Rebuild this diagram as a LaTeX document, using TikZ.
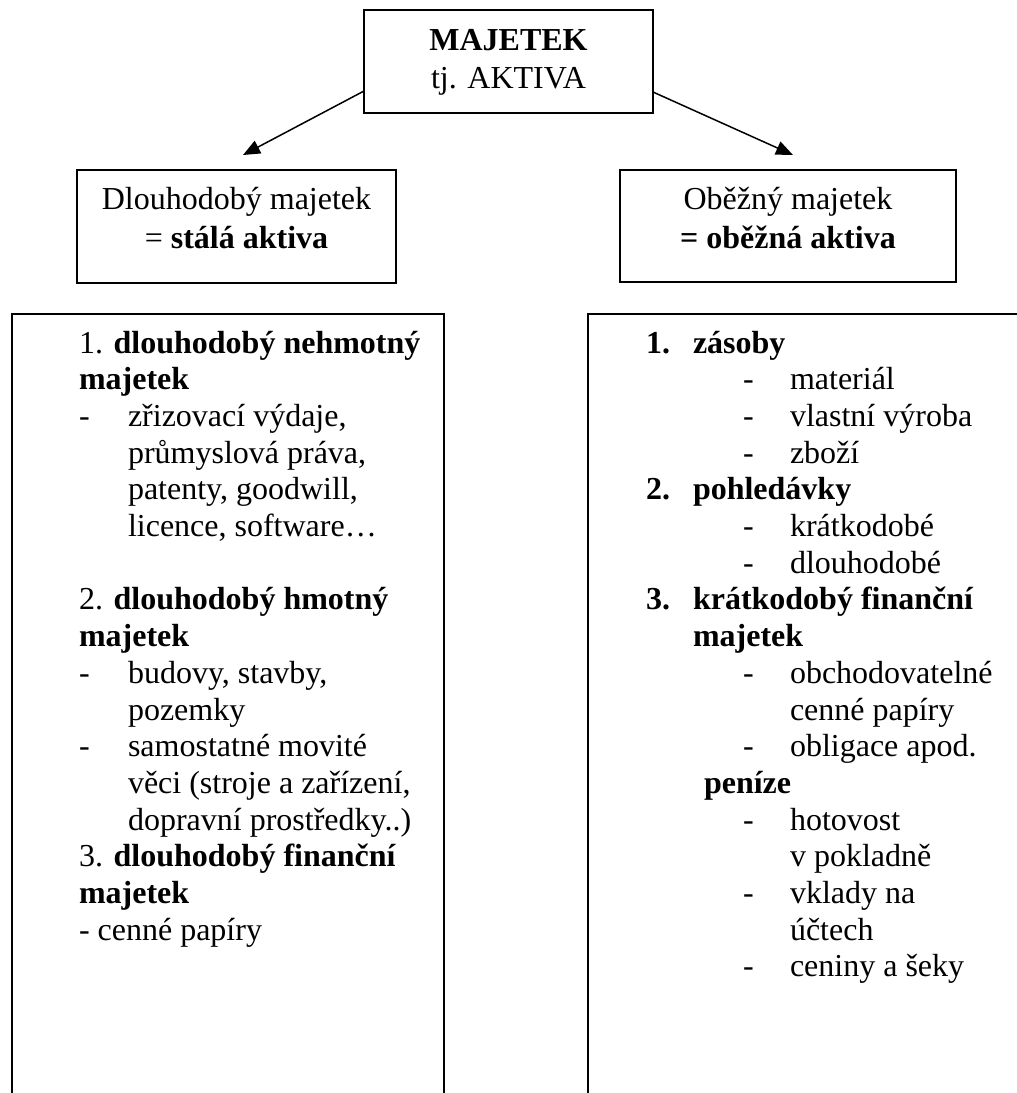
\documentclass[tikz,border=0pt]{standalone}
\usepackage{fontspec}
\setmainfont{Liberation Serif}
\usetikzlibrary{arrows.meta}
\begin{document}
\begin{tikzpicture}[x=1pt,y=-1pt,
  txt/.style={inner sep=0pt, outer sep=0pt, anchor=base west, font=\fontsize{32}{36.7}\selectfont},
  ctxt/.style={txt, anchor=base},
  box/.style={draw, line width=2pt, inner sep=0pt},
  arr/.style={line width=1.5pt, -{Triangle[length=17pt,width=14pt]}}]
\useasboundingbox (0,0) rectangle (1017,1093);

% top box
\node[box, minimum width=289pt, minimum height=103pt] (top) at (508.5,61.5) {};
\node[ctxt] (t1) at (508.5,50) {\bfseries MAJETEK};
\node[ctxt] (t2) at (508.5,88) {tj. AKTIVA};

% middle boxes
\node[box, minimum width=319pt, minimum height=113pt] (dm) at (236.5,226.5) {};
\node[ctxt] (dm1) at (236.5,209) {Dlouhodobý majetek};
\node[ctxt] (dm2) at (236.5,248) {= \textbf{stálá aktiva}};

\node[box, minimum width=336pt, minimum height=112pt] (om) at (788,226) {};
\node[ctxt] (om1) at (788,209) {Oběžný majetek};
\node[ctxt] (om2) at (788,248) {\textbf{= oběžná aktiva}};

% arrows
\coordinate (ls) at (364,91);
\coordinate (lt) at (243,155);
\coordinate (rs) at (653,92);
\coordinate (rt) at (793,155);
\draw[arr] (ls) -- (lt);
\draw[arr] (rs) -- (rt);

% big boxes (open at the bottom)
\coordinate (lb1) at (12,1100);
\coordinate (lb2) at (444,314);
\coordinate (lb3) at (444,1100);
\draw[box] (lb1) |- (lb2) -- (lb3);
\coordinate (rb1) at (588,1100);
\coordinate (rb2) at (1030,314);
\draw[box] (rb1) |- (rb2);

% left column
\node[txt] (l1) at (79,353) {1. \textbf{dlouhodobý nehmotný}};
\node[txt] (l2) at (79,389.7) {\textbf{majetek}};
\node[txt] (ld3) at (79,426.4) {-};
\node[txt] (l3) at (128,426.4) {zřizovací výdaje,};
\node[txt] (l4) at (128,463.1) {průmyslová práva,};
\node[txt] (l5) at (128,499.8) {patenty, goodwill,};
\node[txt] (l6) at (128,536.5) {licence, software…};
\node[txt] (l7) at (79,609.9) {2. \textbf{dlouhodobý hmotný}};
\node[txt] (l8) at (79,646.6) {\textbf{majetek}};
\node[txt] (ld9) at (79,683.3) {-};
\node[txt] (l9) at (128,683.3) {budovy, stavby,};
\node[txt] (l10) at (128,720) {pozemky};
\node[txt] (ld11) at (79,756.7) {-};
\node[txt] (l11) at (128,756.7) {samostatné movité};
\node[txt] (l12) at (128,793.4) {věci (stroje a zařízení,};
\node[txt] (l13) at (128,830.1) {dopravní prostředky..)};
\node[txt] (l14) at (79,866.8) {3. \textbf{dlouhodobý finanční}};
\node[txt] (l15) at (79,903.5) {\textbf{majetek}};
\node[txt] (l16) at (79,940.2) {- cenné papíry};

% right column
\node[txt] (rn1) at (646,353) {\textbf{1.}};
\node[txt] (r1) at (693,353) {\textbf{zásoby}};
\node[txt] (rd2) at (743,389.7) {-};
\node[txt] (r2) at (790,389.7) {materiál};
\node[txt] (rd3) at (743,426.4) {-};
\node[txt] (r3) at (790,426.4) {vlastní výroba};
\node[txt] (rd4) at (743,463.1) {-};
\node[txt] (r4) at (790,463.1) {zboží};
\node[txt] (rn5) at (646,499.8) {\textbf{2.}};
\node[txt] (r5) at (693,499.8) {\textbf{pohledávky}};
\node[txt] (rd6) at (743,536.5) {-};
\node[txt] (r6) at (790,536.5) {krátkodobé};
\node[txt] (rd7) at (743,573.2) {-};
\node[txt] (r7) at (790,573.2) {dlouhodobé};
\node[txt] (rn8) at (646,609.9) {\textbf{3.}};
\node[txt] (r8) at (693,609.9) {\textbf{krátkodobý finanční}};
\node[txt] (r9) at (693,646.6) {\textbf{majetek}};
\node[txt] (rd10) at (743,683.3) {-};
\node[txt] (r10) at (790,683.3) {obchodovatelné};
\node[txt] (r11) at (790,720) {cenné papíry};
\node[txt] (rd12) at (743,756.7) {-};
\node[txt] (r12) at (790,756.7) {obligace apod.};
\node[txt] (r13) at (704,793.4) {\textbf{peníze}};
\node[txt] (rd14) at (743,830.1) {-};
\node[txt] (r14) at (790,830.1) {hotovost};
\node[txt] (r15) at (790,866.8) {v pokladně};
\node[txt] (rd16) at (743,903.5) {-};
\node[txt] (r16) at (790,903.5) {vklady na};
\node[txt] (r17) at (790,940.2) {účtech};
\node[txt] (rd18) at (743,976.9) {-};
\node[txt] (r18) at (790,976.9) {ceniny a šeky};
\end{tikzpicture}
\end{document}
